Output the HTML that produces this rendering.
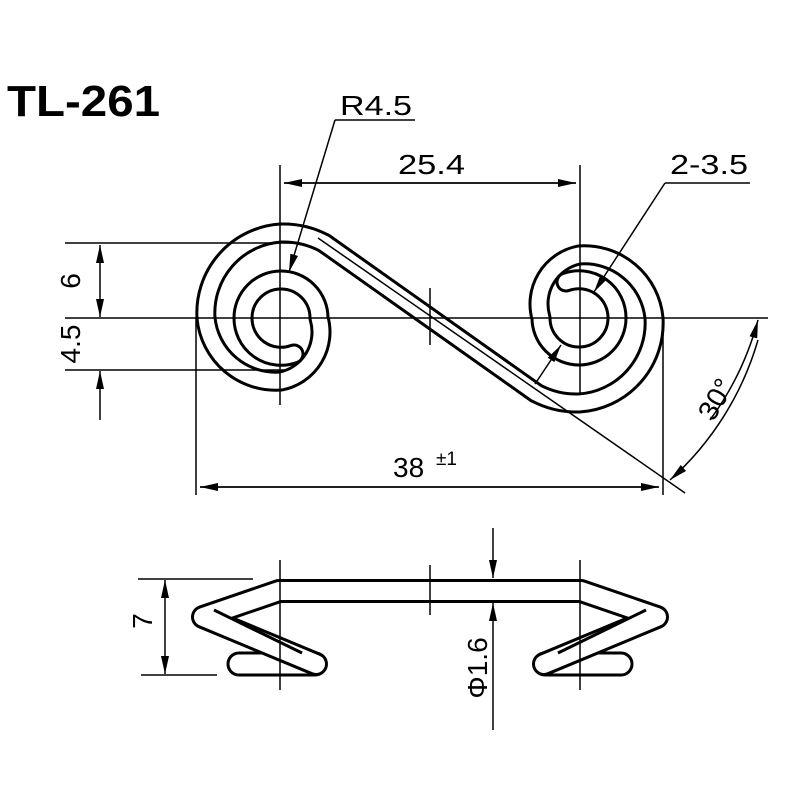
<!DOCTYPE html>
<html><head><meta charset="utf-8"><style>
html,body{margin:0;padding:0;background:#fff;}
svg{display:block;}
text{font-family:"Liberation Sans",sans-serif;fill:#000;}
</style></head><body>
<svg width="800" height="800" viewBox="0 0 800 800" xmlns="http://www.w3.org/2000/svg">
<defs>
<marker id="a" viewBox="0 0 18 8" refX="18" refY="4" markerWidth="18" markerHeight="8" markerUnits="userSpaceOnUse" orient="auto">
<path d="M0,0 L18,4 L0,8 Z" fill="#000"/></marker>
<path id="sp" d="M294,354 A38,38 0 0 1 243,318 A38,38 0 0 1 281,280 A38,38 0 0 1 319,318 A50,50 0 0 1 281,381 A70,70 0 0 1 206,318 A80,80 0 0 1 281,233 A87,87 0 0 1 324,243 L536,393" fill="none"/>
<path id="bw" d="M279,591 L203,617 L316,664" fill="none"/>
</defs>
<rect width="800" height="800" fill="#fff"/>
<text x="7" y="116" font-size="44" font-weight="bold" textLength="153" lengthAdjust="spacingAndGlyphs">TL-261</text>

<g stroke-linecap="round" stroke-linejoin="round">
<use href="#sp" stroke="#000" stroke-width="21"/>
<use href="#sp" stroke="#000" stroke-width="21" transform="rotate(180 430 318)"/>
<use href="#sp" stroke="#fff" stroke-width="15"/>
<use href="#sp" stroke="#fff" stroke-width="15" transform="rotate(180 430 318)"/>
</g>

<g stroke="#000" stroke-width="1.5" fill="none">
<line x1="280" y1="165" x2="280" y2="405"/>
<line x1="580" y1="165" x2="580" y2="395"/>
<line x1="430" y1="288" x2="430" y2="345"/>
<line x1="65" y1="318" x2="768" y2="318"/>
<line x1="65" y1="243" x2="300" y2="243"/>
<line x1="65" y1="370" x2="285" y2="370"/>
<line x1="196" y1="318" x2="196" y2="495"/>
<line x1="663" y1="318" x2="663" y2="495"/>
<line x1="318" y1="238" x2="685" y2="493"/>
<line x1="200" y1="487" x2="659" y2="487" marker-end="url(#a)"/>
<line x1="659" y1="487" x2="200" y2="487" marker-end="url(#a)"/>
<line x1="284" y1="183" x2="576" y2="183" marker-end="url(#a)"/>
<line x1="576" y1="183" x2="284" y2="183" marker-end="url(#a)"/>
<line x1="100" y1="280" x2="100" y2="245" marker-end="url(#a)"/>
<line x1="100" y1="280" x2="100" y2="317" marker-end="url(#a)"/>
<line x1="100" y1="420" x2="100" y2="371" marker-end="url(#a)"/>
<line x1="335" y1="120" x2="415" y2="120"/>
<line x1="335" y1="120" x2="289" y2="272" marker-end="url(#a)"/>
<line x1="665" y1="183" x2="750" y2="183"/>
<line x1="665" y1="183" x2="594" y2="292" marker-end="url(#a)"/>
<line x1="535" y1="384" x2="561" y2="345" marker-end="url(#a)"/>
<path d="M758,340 A300,300 0 0 1 670,480" marker-end="url(#a)"/>
<path d="M710,420 A300,300 0 0 0 758,320" marker-end="url(#a)"/>
</g>

<text x="340" y="115" font-size="28" textLength="72" lengthAdjust="spacingAndGlyphs">R4.5</text>
<text x="398" y="174" font-size="28" textLength="67" lengthAdjust="spacingAndGlyphs">25.4</text>
<text x="670" y="174" font-size="28" textLength="78" lengthAdjust="spacingAndGlyphs">2-3.5</text>
<text x="393" y="477" font-size="28">38</text>
<text x="436" y="465" font-size="19">±1</text>
<text transform="translate(80,281) rotate(-90)" font-size="28" text-anchor="middle">6</text>
<text transform="translate(80,344) rotate(-90)" font-size="28" text-anchor="middle">4.5</text>
<text transform="translate(724,404) rotate(-60)" font-size="28" text-anchor="middle">30°</text>

<g stroke="#000" stroke-width="3" fill="#fff">
<rect x="228" y="653" width="98" height="22" rx="11"/>
<rect x="534" y="653" width="98" height="22" rx="11"/>
</g>
<g stroke-linecap="round" stroke-linejoin="round">
<use href="#bw" stroke="#000" stroke-width="24"/>
<use href="#bw" stroke="#000" stroke-width="24" transform="translate(860 0) scale(-1 1)"/>
<line x1="279" y1="591" x2="581" y2="591" stroke="#000" stroke-width="24" stroke-linecap="butt"/>
<use href="#bw" stroke="#fff" stroke-width="18"/>
<use href="#bw" stroke="#fff" stroke-width="18" transform="translate(860 0) scale(-1 1)"/>
<line x1="278" y1="591" x2="582" y2="591" stroke="#fff" stroke-width="18" stroke-linecap="butt"/>
</g>
<g stroke="#000" stroke-width="3">
<line x1="214" y1="610" x2="302" y2="653"/>
<line x1="646" y1="610" x2="558" y2="653"/>
</g>
<g stroke="#000" stroke-width="1.5" fill="none">
<line x1="280" y1="560" x2="280" y2="690"/>
<line x1="580" y1="560" x2="580" y2="690"/>
<line x1="430" y1="565" x2="430" y2="615"/>
<line x1="138" y1="579" x2="253" y2="579"/>
<line x1="141" y1="675" x2="217" y2="675"/>
<line x1="165" y1="627" x2="165" y2="580" marker-end="url(#a)"/>
<line x1="165" y1="627" x2="165" y2="674" marker-end="url(#a)"/>
<line x1="493" y1="528" x2="493" y2="578" marker-end="url(#a)"/>
<line x1="493" y1="730" x2="493" y2="603" marker-end="url(#a)"/>
</g>
<text transform="translate(152,621) rotate(-90)" font-size="28" text-anchor="middle">7</text>
<text transform="translate(487,668) rotate(-90)" font-size="28" text-anchor="middle">Φ1.6</text>
</svg>
</body></html>
